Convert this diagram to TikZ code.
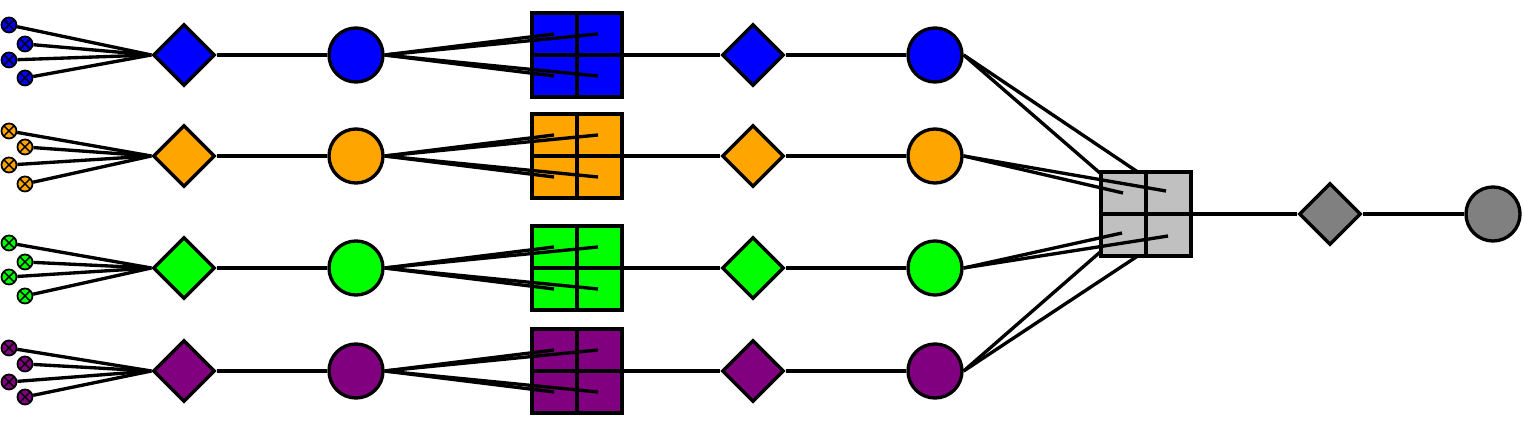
\documentclass[tikz,border=0pt]{standalone}
\usetikzlibrary{shapes.geometric}

\definecolor{rowblue}{RGB}{0,0,255}
\definecolor{roworange}{RGB}{255,165,0}
\definecolor{rowgreen}{RGB}{0,255,0}
\definecolor{rowpurple}{RGB}{128,0,128}
\definecolor{mixgray}{RGB}{192,192,192}
\definecolor{outgray}{RGB}{128,128,128}

\tikzset{
	leaf/.style={circle, draw, fill=#1, line width=0.5pt, minimum size=0.15cm, inner sep=0pt,
		path picture={\draw[line width=0.4pt] (path picture bounding box.north west) -- (path picture bounding box.south east)
			(path picture bounding box.north east) -- (path picture bounding box.south west);}},
	hub/.style={diamond, draw, fill=#1, minimum size=0.62cm, inner sep=0pt},
	ball/.style={circle, draw, fill=#1, minimum size=0.54cm, inner sep=0pt},
	grid/.style={rectangle, draw, fill=#1, line width=1.25pt, minimum width=0.9cm, minimum height=0.84cm, inner sep=0pt,
		path picture={\draw[line width=1.1pt] (path picture bounding box.north) -- (path picture bounding box.south)
			(path picture bounding box.west) -- (path picture bounding box.east);}}
}

\begin{document}
\begin{tikzpicture}[x=0.01cm, y=-0.01cm, line width=0.95pt]
	\useasboundingbox (0,0) rectangle (1524,425);

	\foreach \n/\c/\y/\ya/\yb/\yc/\yd in {1/rowblue/55/25/44/60/78, 2/roworange/156/131/147/165/184,
		3/rowgreen/268/243/262/277/296, 4/rowpurple/371/348/364/382/397} {
		\node[hub=\c] (H\n) at (184,\y) {};
		\node[leaf=\c] (L\n-1) at (9,\ya) {};
		\node[leaf=\c] (L\n-2) at (25,\yb) {};
		\node[leaf=\c] (L\n-3) at (9,\yc) {};
		\node[leaf=\c] (L\n-4) at (25,\yd) {};
		\node[ball=\c] (P\n) at (356,\y) {};
		\node[grid=\c] (G\n) at (577,\y) {};
		\node[hub=\c] (Q\n) at (753,\y) {};
		\node[ball=\c] (R\n) at (935,\y) {};

		\draw (L\n-1) -- (H\n.west);
		\draw (L\n-2) -- (H\n.west);
		\draw (L\n-3) -- (H\n.west);
		\draw (L\n-4) -- (H\n.west);
		\draw (H\n) -- (P\n);

		\draw (P\n.east) -- ([shift={(-23,-21)}]G\n.center);
		\draw (P\n.east) -- ([shift={(21,-21)}]G\n.center);
		\draw (P\n.east) -- ([shift={(-23,21)}]G\n.center);
		\draw (P\n.east) -- ([shift={(21,21)}]G\n.center);

		\draw (G\n) -- (Q\n);
		\draw (Q\n) -- (R\n);
	}

	% inner points of the mixing box
	\coordinate (M1) at (1123,193);
	\coordinate (M2) at (1166,191);
	\coordinate (M3) at (1122,233);
	\coordinate (M4) at (1168,236);

	\draw (R1.east) -- (M1);
	\draw (R1.east) -- (M2);
	\draw (R4.east) -- (M3);
	\draw (R4.east) -- (M4);

	\node[grid=mixgray] (G) at (1146,214) {};

	\draw (R2.east) -- (M1);
	\draw (R2.east) -- (M2);
	\draw (R3.east) -- (M3);
	\draw (R3.east) -- (M4);

	\node[hub=outgray] (Q) at (1330,214) {};
	\node[ball=outgray] (R) at (1493,214) {};

	\draw (G) -- (Q);
	\draw (Q) -- (R);
\end{tikzpicture}
\end{document}
